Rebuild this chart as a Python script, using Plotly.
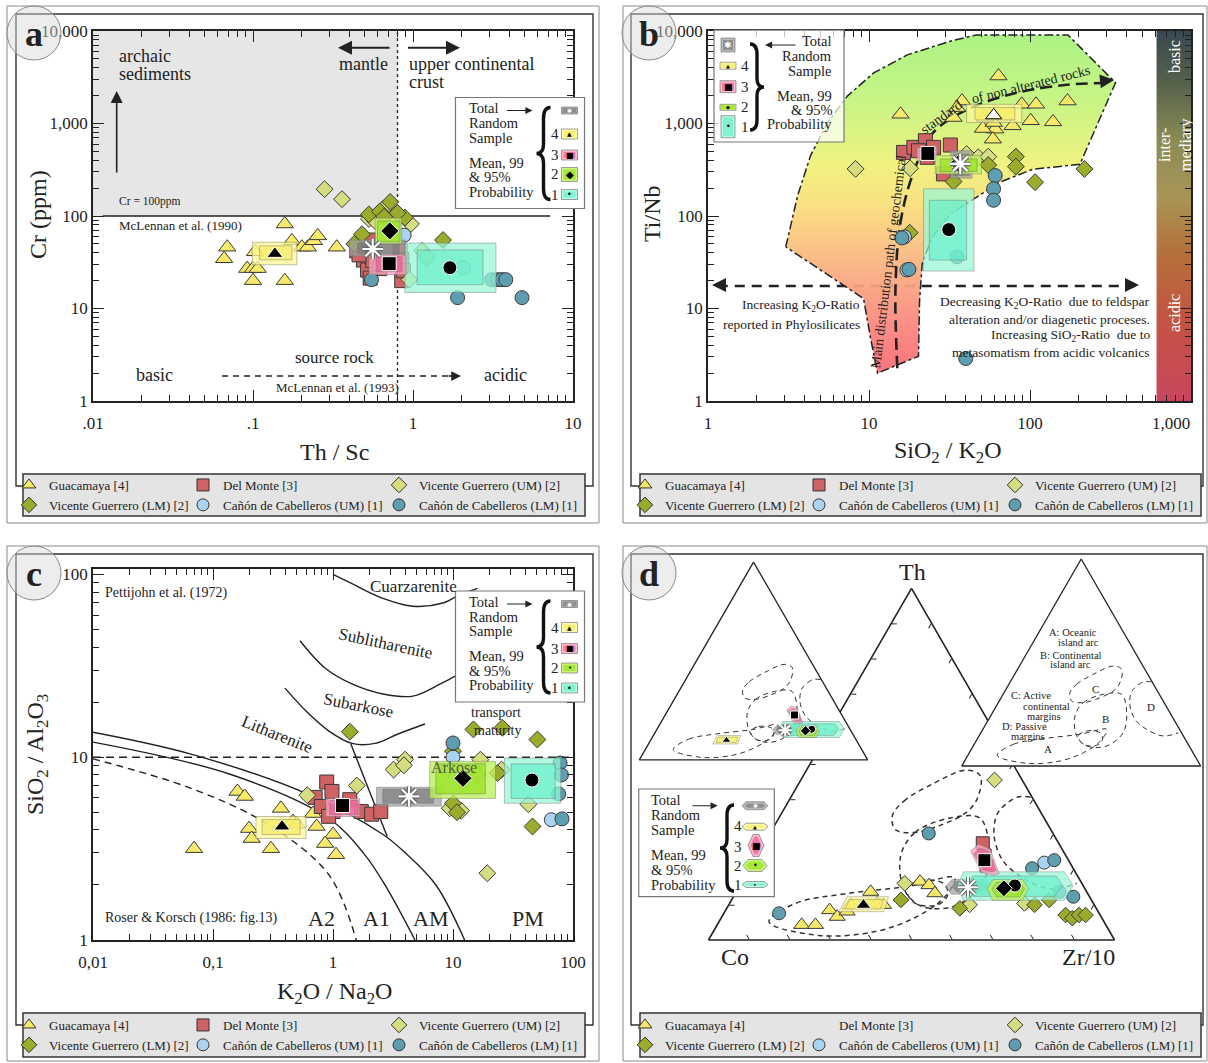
import numpy as np
import plotly.graph_objects as go

W, H = 1208, 1063
FONT = "Liberation Serif"
SYMF = "DejaVu Sans"
INK = "#222222"


def X(p):
    return p / W


def Y(p):
    return 1 - p / H


# ============================ DATA ============================
SERIES_NAMES = ["Guacamaya [4]", "Del Monte [3]", "Vicente Guerrero (UM) [2]",
                "Vicente Guerrero (LM) [2]", "Cañón de Cabelleros (UM) [1]",
                "Cañón de Cabelleros (LM) [1]"]
SERIES_SYMBOLS = ["triangle-up", "square", "diamond", "diamond", "circle", "circle"]
SERIES_COLORS = ["#f7ea6a", "#cf6262", "#d6dd80", "#9bac2c", "#a9d3f1", "#5f9db1"]
SERIES_SIZES = [15, 14, 13, 13, 14, 14]

# probability groups, order: Total, 4, 3, 2, 1
GROUP_LABELS = ["Total", "4", "3", "2", "1"]
P99_COL = ["rgba(160,160,160,0.72)", "rgba(255,248,150,0.75)", "rgba(247,165,195,0.78)",
           "rgba(190,240,95,0.80)", "rgba(150,246,215,0.72)"]
P95_COL = ["rgba(120,120,120,0.65)", "rgba(247,237,95,0.70)", "rgba(240,85,145,0.65)",
           "rgba(150,226,30,0.72)", "rgba(95,238,198,0.62)"]
MEAN_SYM = ["asterisk-open", "triangle-up", "square", "diamond", "circle"]
DRAW_ORDER = [0, 4, 1, 2, 3]

# ---- panel a : Th/Sc vs Cr (ppm)
A_GUAC_X = [0.069, 0.066, 0.158, 0.175, 0.202, 0.22, 0.24, 0.254, 0.334, 0.092, 0.10, 0.107, 0.10, 0.158, 0.103]
A_GUAC_Y = [46, 34.5, 82, 54, 46, 46, 54, 61, 46, 27, 27, 27, 20, 20, 41]
A_DELM_X = [0.445, 0.49, 0.52, 0.83, 0.85, 0.85, 0.87, 0.56, 0.62, 0.54, 0.53, 0.46]
A_DELM_Y = [42, 33.4, 26, 42, 34, 20, 25.6, 33, 27, 21.3, 55, 38]
A_VGUM_X = [0.28, 0.36, 0.53, 0.65, 0.97, 1.14, 1.22, 0.95, 0.60, 0.80, 0.58]
A_VGUM_Y = [195, 152, 93, 119, 82, 42, 35.4, 20.5, 105, 92, 88]
A_VGLM_X = [0.53, 0.72, 0.89, 0.48, 1.54, 0.62, 0.66, 0.80, 0.43]
A_VGLM_Y = [104, 142, 96, 63.5, 55, 112, 98, 108, 50]
A_CCUM_X = [0.88, 2.06]
A_CCUM_Y = [62, 27.6]
A_CCLM_X = [0.55, 1.9, 3.1, 3.4, 3.6, 3.8, 4.8]
A_CCLM_Y = [20.5, 13.1, 20.5, 20.5, 20.5, 20.5, 13.1]
A_P99_X0 = [0.40, 0.099, 0.531, 0.58, 0.89]
A_P99_X1 = [0.89, 0.188, 0.904, 0.85, 3.3]
A_P99_Y0 = [37, 29.7, 23.2, 50, 14.9]
A_P99_Y1 = [55, 52, 38, 95, 51]
A_P95_X0 = [0.45, 0.11, 0.589, 0.60, 1.06]
A_P95_X1 = [0.82, 0.175, 0.854, 0.83, 2.74]
A_P95_Y0 = [39, 33.6, 25, 52.6, 18.1]
A_P95_Y1 = [51, 47.6, 36.3, 88, 43]
A_MEAN_X = [0.56, 0.137, 0.71, 0.716, 1.70]
A_MEAN_Y = [44, 39, 30.5, 69, 27.6]
A_ARCHAIC_X = [0.01, 0.8]
A_ARCHAIC_Y = [100, 10000]
A_CR_LINE_X = [0.0115, 7.2]
A_CR_LINE_Y = [100, 100]
A_UCC_X = [0.8, 0.8]
A_UCC_Y = [1, 10000]

# ---- panel b : SiO2/K2O vs Ti/Nb
B_GUAC_X = [15.7, 63.7, 37.8, 35.2, 33.5, 88.9, 109, 171, 101, 139, 78, 60.7, 51, 58.8, 59.5, 52.7]
B_GUAC_Y = [1259, 3260, 1750, 1486, 1160, 1614, 1614, 1750, 1070, 1042, 944, 868, 883, 677, 1025, 1160]
B_DELM_X = [16.4, 19.0, 22.4, 25.2, 32, 23, 29, 20.3]
B_DELM_Y = [487, 552, 652, 552, 585, 431, 285, 508]
B_VGUM_X = [8.25, 18.0, 40.4, 47.7, 55]
B_VGUM_Y = [323, 328, 467, 431, 438]
B_VGLM_X = [33.5, 81.7, 81.7, 107.5, 218, 17.9, 55]
B_VGLM_Y = [236, 438, 342, 232, 323, 66, 356]
B_CCUM_X = [17.2, 16.6]
B_CCUM_Y = [26.1, 59.4]
B_CCLM_X = [60.8, 59.4, 59.4, 16.0, 17.7, 39.9, 35.2]
B_CCLM_Y = [274, 197, 148, 58, 26.5, 2.88, 36.2]
B_P99_X0 = [32, 40.4, 19.9, 25.8, 21.8]
B_P99_X1 = [43.6, 88.9, 26.4, 50, 44.9]
B_P99_Y0 = [256, 1025, 397, 285, 25.4]
B_P99_Y1 = [508, 1614, 552, 450, 197]
B_P95_X0 = [33.5, 45.5, 20.8, 27.7, 23.7]
B_P95_X1 = [41.9, 80.5, 25.8, 46.9, 40.4]
B_P95_Y0 = [273, 1093, 413, 303, 33.4]
B_P95_Y1 = [467, 1486, 530, 413, 148]
B_MEAN_X = [36.9, 59.5, 23.2, 36.0, 31.3]
B_MEAN_Y = [366, 1227, 475, 370, 71.3]
B_FIELD_X = [3.04, 3.61, 4.34, 5.53, 7.36, 10.7, 17.3, 32, 46.3, 172, 340, 204, 104, 65, 45.6, 32,
             24.7, 21.4, 20.6, 20.3, 11.3, 10.2, 9.25, 3.04]
B_FIELD_Y = [46.4, 168, 453, 1023, 1990, 3530, 5520, 7760, 9060, 9060, 2760, 362, 320, 232, 156, 105,
             59.4, 30.5, 11.9, 3.05, 2.0, 4.88, 12.8, 46.4]
B_PATH_X = [15.0, 14.6, 15.7, 18.9, 25.1, 40.7, 83, 169, 300]
B_PATH_Y = [2.26, 16.4, 86, 297, 800, 1410, 2150, 2620, 2740]
B_KARROW_X = [1.15, 450]
B_KARROW_Y = [17.5, 17.5]
B_CBAR_X = [611, 1000]
B_CBAR_Y = [1, 10000]

# ---- panel c : K2O/Na2O vs SiO2/Al2O3
C_GUAC_X = [0.0695, 0.16, 0.184, 0.368, 0.2, 0.21, 0.304, 0.464, 0.68, 0.73, 1.0, 0.86, 1.06, 0.5]
C_GUAC_Y = [3.16, 6.5, 6.1, 5.25, 4.07, 3.59, 3.16, 4.45, 4.92, 4.18, 3.78, 3.37, 2.93, 4.3]
C_DELM_X = [0.886, 0.98, 0.71, 0.80, 1.0, 1.38, 1.72, 2.1, 2.5, 0.92]
C_DELM_Y = [7.32, 6.5, 6.03, 5.38, 5.05, 5.86, 5.05, 4.88, 5.05, 4.75]
C_VGUM_X = [3.2, 3.98, 3.9, 1.58, 0.61, 16.9, 25.4, 9.4, 11.7, 42.5, 19.3, 16.0]
C_VGUM_Y = [8.56, 9.7, 9.04, 7.0, 6.2, 9.7, 8.56, 5.26, 5.1, 5.53, 2.32, 8.0]
C_VGLM_X = [1.38, 14.8, 25.8, 50.5, 10.0, 10.0, 23.5, 46, 10.8]
C_VGLM_Y = [13.8, 14.2, 14.5, 12.5, 10.8, 5.6, 8.2, 4.18, 5.0]
C_CCUM_X = [66, 10.0]
C_CCUM_Y = [4.55, 10.0]
C_CCLM_X = [81, 10.0, 78, 80, 76]
C_CCLM_Y = [4.6, 11.97, 9.3, 8.0, 6.3]
C_P99_X0 = [2.3, 0.228, 0.87, 6.4, 26.8]
C_P99_X1 = [8.0, 0.596, 1.67, 22.6, 79]
C_P99_Y0 = [5.4, 3.59, 4.74, 5.95, 5.6]
C_P99_Y1 = [6.85, 4.74, 5.95, 9.5, 9.9]
C_P95_X0 = [2.6, 0.257, 0.94, 7.2, 30.5]
C_P95_X1 = [6.9, 0.532, 1.62, 18.6, 71]
C_P95_Y0 = [5.6, 3.78, 4.86, 6.3, 5.95]
C_P95_Y1 = [6.7, 4.56, 5.8, 9.2, 9.2]
C_MEAN_X = [4.3, 0.376, 1.2, 12.1, 45.5]
C_MEAN_Y = [6.1, 4.18, 5.44, 7.67, 7.5]
C_CUARZ_X = [1.0, 1.44, 2.61, 4.64, 8.4, 11.2, 16]
C_CUARZ_Y = [100, 89, 74, 67, 70, 77, 84]
C_SUBLIT_X = [0.531, 0.857, 1.44, 2.61, 4.64, 7.85, 10.5, 16]
C_SUBLIT_Y = [43.4, 30.8, 25.2, 22.2, 21.6, 25.2, 27.9, 33]
C_SUBARK_X = [0.398, 0.596, 0.926, 1.44, 2.24, 3.48, 5.84]
C_SUBARK_Y = [23.9, 17.9, 13.9, 11.9, 11.9, 13.4, 15.2]
C_LINK_X = [1.41, 2.83]
C_LINK_Y = [11.8, 3.68]
C_RK_UP_X = [0.01, 0.0656, 0.596, 2.61, 4.06, 7.2, 12.5]
C_RK_UP_Y = [13.7, 10.4, 6.34, 3.78, 2.97, 2.0, 1.0]
C_RK_LO_X = [0.01, 0.139, 0.926, 1.81, 2.71, 4.82]
C_RK_LO_Y = [12.1, 8.07, 4.62, 2.97, 2.0, 1.0]
C_RK_DA_X = [0.01, 0.0656, 0.287, 0.926, 1.56]
C_RK_DA_Y = [9.8, 6.76, 4.29, 2.27, 1.0]
C_MAT_X = [0.01, 100]
C_MAT_Y = [10, 10]

# ---- panel d : ternary Th - Co - Zr/10 (percent)
D_GUAC_TH = [4.3, 4.3, 8.5, 6.6, 8.1, 13.7, 16.6, 15.6, 13.3, 10.4, 10.0, 10.0]
D_GUAC_CO = [74.9, 71.5, 65.9, 65.0, 61.8, 53.2, 39.6, 37.9, 37.6, 53.3, 51.9, 60.0]
D_GUAC_ZR = [20.8, 24.2, 25.6, 28.4, 30.1, 33.1, 43.8, 46.5, 49.1, 36.3, 38.1, 30.0]
D_DELM_TH = [27.5, 24.0, 21.0]
D_DELM_CO = [18.7, 20.0, 21.0]
D_DELM_ZR = [53.8, 56.0, 58.0]
D_VGUM_TH = [16.1, 10.0, 10.4, 45.5]
D_VGUM_CO = [43.6, 30.7, 17.0, 6.8]
D_VGUM_ZR = [40.3, 59.3, 72.6, 47.7]
D_VGLM_TH = [11.4, 9.0, 10.0, 11.4, 7.1, 6.2, 7.1, 7.1]
D_VGLM_CO = [46.9, 33.6, 14.7, 10.4, 8.5, 7.3, 5.2, 3.6]
D_VGLM_ZR = [41.7, 57.4, 75.3, 78.2, 84.4, 86.5, 87.7, 89.3]
D_CCUM_TH = [22.0]
D_CCUM_CO = [6.3]
D_CCUM_ZR = [71.7]
D_CCLM_TH = [7.6, 30.3, 20.4, 22.7, 12.3, 13.7]
D_CCLM_CO = [78.8, 30.6, 10.1, 3.5, 4.0, 6.7]
D_CCLM_ZR = [13.6, 39.1, 69.5, 73.8, 83.7, 79.6]
D_MEAN_TH = [15.0, 9.95, 22.7, 14.7, 15.5]
D_MEAN_CO = [28.6, 56.85, 20.7, 19.9, 16.8]
D_MEAN_ZR = [56.4, 33.2, 56.6, 65.4, 67.7]
D_P99_TH = [[15.2, 17.2, 17.2, 15.2, 13.0, 13.0], [8.05, 12.3, 12.3, 8.05],
            [25.3, 27.3, 25.9, 18.9, 18.4, 19.2], [14.66, 17.2, 17.2, 14.66, 11.3, 11.3],
            [15.5, 19.4, 19.4, 15.5, 11.3, 11.3]]
D_P99_CO = [[34.0, 31.5, 22.8, 22.3, 24.9, 33.6], [63.85, 59.7, 49.5, 52.85],
            [22.8, 19.9, 17.7, 19.0, 20.7, 23.2], [24.04, 21.3, 14.0, 13.84, 17.0, 24.4],
            [31.0, 27.5, 2.7, 2.5, 6.8, 31.6]]
D_P99_ZR = [[50.8, 51.3, 60.0, 62.5, 62.1, 53.4], [28.1, 28.0, 38.2, 39.1],
            [51.9, 52.8, 56.4, 62.1, 60.9, 57.6], [61.3, 61.5, 68.8, 71.5, 71.7, 64.3],
            [53.5, 53.1, 77.9, 82.0, 81.9, 57.1]]
D_P95_TH = [[15.2, 16.6, 16.6, 15.2, 13.7, 13.7], [8.8, 11.5, 11.5, 8.8],
            [24.5, 26.0, 25.0, 19.8, 19.4, 20.0], [14.66, 16.4, 16.4, 14.66, 12.2, 12.2],
            [15.5, 18.2, 18.2, 15.5, 12.4, 12.4]]
D_P95_CO = [[32.5, 30.6, 24.0, 23.8, 25.7, 32.0], [62.0, 59.5, 51.1, 53.2],
            [22.5, 20.2, 18.5, 19.2, 20.4, 22.2], [22.84, 20.9, 15.3, 14.84, 17.2, 23.0],
            [28.5, 25.8, 5.3, 5.0, 8.6, 28.6]]
D_P95_ZR = [[52.3, 52.8, 59.4, 61.0, 60.6, 54.3], [29.2, 29.0, 37.4, 38.0],
            [53.0, 53.8, 56.5, 61.0, 60.2, 57.8], [62.5, 62.7, 68.3, 70.5, 70.6, 64.8],
            [56.0, 56.0, 76.5, 79.5, 79.0, 59.0]]
# tectonic fields (Bhatia & Crook)
FIELD_A_TH = [5.2, 10.5, 13.2, 15.3, 17.7, 12.0, 6.4, 2.4, 1.3, 5.2]
FIELD_A_CO = [82.5, 73.1, 59.3, 42.9, 30.5, 36.0, 45.9, 57.7, 72.2, 82.5]
FIELD_A_ZR = [12.3, 16.4, 27.5, 41.8, 51.8, 52.0, 47.7, 39.9, 26.5, 12.3]
FIELD_B_TH = [24.15, 30.6, 34.6, 34.6, 25.7, 16.1, 9.66, 9.66, 14.5, 24.15]
FIELD_B_CO = [40.55, 33.8, 23.5, 15.8, 18.1, 24.4, 34.54, 42.84, 44.6, 40.55]
FIELD_B_ZR = [35.3, 35.6, 41.9, 49.6, 56.2, 59.5, 55.8, 47.5, 40.9, 35.3]
FIELD_B2_TH = [14.5, 16.9, 16.1, 12.9, 10.0, 10.5, 14.5]
FIELD_B2_CO = [44.0, 39.3, 34.1, 34.6, 38.5, 43.9, 44.0]
FIELD_B2_ZR = [41.5, 43.8, 49.8, 52.5, 51.5, 45.6, 41.5]
FIELD_C_TH = [35.4, 39.5, 44.3, 48.3, 46.7, 40.2, 36.2, 33.0, 30.6, 31.4, 35.4]
FIELD_C_CO = [37.0, 32.1, 22.8, 12.4, 9.7, 13.7, 18.5, 25.6, 33.8, 38.3, 37.0]
FIELD_C_ZR = [27.6, 28.4, 32.9, 39.3, 43.6, 46.1, 45.3, 41.4, 35.6, 30.3, 27.6]
FIELD_D_TH = [40.6, 40.6, 37.1, 34.6, 29.0, 22.6, 17.7, 14.5, 16.1]
FIELD_D_CO = [0.4, 3.7, 9.6, 12.0, 15.1, 16.2, 13.8, 8.4, 1.3]
FIELD_D_ZR = [59.0, 55.7, 53.3, 53.4, 55.9, 61.2, 68.5, 77.1, 82.6]

# ============================ FIGURE ============================
fig = go.Figure()
shapes = []
annotations = []


def rect(x0, y0, x1, y1, fill="rgba(0,0,0,0)", line="#333", lw=1.0, layer="below"):
    shapes.append(dict(type="rect", xref="paper", yref="paper", x0=X(x0), x1=X(x1),
                       y0=Y(y1), y1=Y(y0), fillcolor=fill, line=dict(color=line, width=lw),
                       layer=layer))


def T(x, y, s, size=14, xa="center", ya="middle", angle=0, color=INK, family=FONT):
    annotations.append(dict(x=X(x), y=Y(y), xref="paper", yref="paper", text=s,
                            showarrow=False, xanchor=xa, yanchor=ya, textangle=angle,
                            font=dict(family=family, size=size, color=color)))


def ARW(xh, yh, xt, yt, width=1.6, head=2, size=1.2, color=INK):
    annotations.append(dict(x=X(xh), y=Y(yh), xref="paper", yref="paper",
                            ax=xt - xh, ay=yt - yh, axref="pixel", ayref="pixel",
                            showarrow=True, arrowhead=head, arrowsize=size, arrowwidth=width,
                            arrowcolor=color, text="", standoff=0))


def brace(cx, cy, h, w, left=True):
    # curly brace drawn as a path; tip points left for "{" and right for "}"
    s = 1 if left else -1
    top, bot = cy - h / 2, cy + h / 2
    P = lambda a, b: "%.5f,%.5f" % (X(a), Y(b))
    path = ("M " + P(cx + s * w / 2, top) +
            " Q " + P(cx, top) + " " + P(cx, top + h * 0.12) +
            " L " + P(cx, cy - h * 0.1) +
            " Q " + P(cx, cy) + " " + P(cx - s * w / 2, cy) +
            " Q " + P(cx, cy) + " " + P(cx, cy + h * 0.1) +
            " L " + P(cx, bot - h * 0.12) +
            " Q " + P(cx, bot) + " " + P(cx + s * w / 2, bot))
    shapes.append(dict(type="path", xref="paper", yref="paper", path=path,
                       line=dict(color="#111111", width=3.4), layer="above"))


def pts(xs, ys, s, xa, ya):
    fig.add_trace(go.Scatter(x=xs, y=ys, mode="markers", xaxis=xa, yaxis=ya, showlegend=False,
                             hoverinfo="skip",
                             marker=dict(symbol=SERIES_SYMBOLS[s], color=SERIES_COLORS[s],
                                         size=SERIES_SIZES[s], line=dict(color="#3a3a3a", width=1))))


def line(xs, ys, xa, ya, dash="solid", width=1.4, color=INK, shape="linear"):
    fig.add_trace(go.Scatter(x=xs, y=ys, mode="lines", xaxis=xa, yaxis=ya, showlegend=False,
                             hoverinfo="skip", line=dict(color=color, width=width, dash=dash,
                                                         shape=shape, smoothing=1.0)))


def means(mx, my, xa, ya, white_tri=False):
    for g in [1, 2, 3, 4]:
        col = "black"
        lcol = "white"
        if white_tri and g == 1:
            col, lcol = "white", "black"
        fig.add_trace(go.Scatter(x=[mx[g]], y=[my[g]], mode="markers", xaxis=xa, yaxis=ya,
                                 showlegend=False, hoverinfo="skip",
                                 marker=dict(symbol=MEAN_SYM[g], color=col, size=14,
                                             line=dict(color=lcol, width=1))))
    for w, c in [(4.5, "#666666"), (2.2, "white")]:
        fig.add_trace(go.Scatter(x=[mx[0]], y=[my[0]], mode="markers", xaxis=xa, yaxis=ya,
                                 showlegend=False, hoverinfo="skip",
                                 marker=dict(symbol="asterisk-open", size=17, color=c,
                                             line=dict(color=c, width=w))))


def prob_boxes(p99x0, p99x1, p99y0, p99y1, p95x0, p95x1, p95y0, p95y1, mx, my, xa, ya,
               white_tri=False):
    for g in DRAW_ORDER:
        for (x0, x1, y0, y1, col) in [(p99x0[g], p99x1[g], p99y0[g], p99y1[g], P99_COL[g]),
                                      (p95x0[g], p95x1[g], p95y0[g], p95y1[g], P95_COL[g])]:
            fig.add_trace(go.Scatter(x=[x0, x1, x1, x0, x0], y=[y0, y0, y1, y1, y0], mode="lines",
                                     fill="toself", fillcolor=col, xaxis=xa, yaxis=ya,
                                     line=dict(color="rgba(110,110,110,0.55)", width=0.8),
                                     showlegend=False, hoverinfo="skip"))
    means(mx, my, xa, ya, white_tri)


# ---------------- panel a ----------------
fig.add_trace(go.Scatter(x=[A_ARCHAIC_X[0], A_ARCHAIC_X[1], A_ARCHAIC_X[1], A_ARCHAIC_X[0], A_ARCHAIC_X[0]],
                         y=[A_ARCHAIC_Y[0], A_ARCHAIC_Y[0], A_ARCHAIC_Y[1], A_ARCHAIC_Y[1], A_ARCHAIC_Y[0]],
                         fill="toself", fillcolor="#e6e6e6", mode="lines", line=dict(width=0),
                         xaxis="x", yaxis="y", showlegend=False, hoverinfo="skip"))
line(A_CR_LINE_X, A_CR_LINE_Y, "x", "y", width=1.3)
line(A_UCC_X, A_UCC_Y, "x", "y", dash="dot", width=1.3)
for s, (xs, ys) in enumerate([(A_GUAC_X, A_GUAC_Y), (A_DELM_X, A_DELM_Y), (A_VGUM_X, A_VGUM_Y),
                              (A_VGLM_X, A_VGLM_Y), (A_CCUM_X, A_CCUM_Y), (A_CCLM_X, A_CCLM_Y)]):
    pts(xs, ys, s, "x", "y")
prob_boxes(A_P99_X0, A_P99_X1, A_P99_Y0, A_P99_Y1, A_P95_X0, A_P95_X1, A_P95_Y0, A_P95_Y1,
           A_MEAN_X, A_MEAN_Y, "x", "y")

# ---------------- panel b ----------------
line(B_KARROW_X, B_KARROW_Y, "x2", "y2", dash="10px,7px", width=2.4)
fig.add_trace(go.Scatter(x=B_FIELD_X, y=B_FIELD_Y, mode="lines", fill="toself",
                         fillgradient=dict(type="vertical", colorscale=[
                             [0.0, "rgba(250,105,115,0.93)"], [0.15, "rgba(250,135,125,0.93)"],
                             [0.35, "rgba(250,185,128,0.93)"], [0.5, "rgba(250,222,122,0.93)"],
                             [0.62, "rgba(238,242,118,0.93)"], [0.8, "rgba(196,244,124,0.93)"],
                             [1.0, "rgba(166,242,124,0.93)"]]),
                         line=dict(color=INK, width=1.5, dash="dashdot"),
                         xaxis="x2", yaxis="y2", showlegend=False, hoverinfo="skip"))
line(B_PATH_X, B_PATH_Y, "x2", "y2", dash="12px,6px", width=2.6, shape="spline")
fig.add_trace(go.Scatter(x=[B_CBAR_X[0], B_CBAR_X[1], B_CBAR_X[1], B_CBAR_X[0], B_CBAR_X[0]],
                         y=[B_CBAR_Y[0], B_CBAR_Y[0], B_CBAR_Y[1], B_CBAR_Y[1], B_CBAR_Y[0]],
                         mode="lines", fill="toself", line=dict(width=0),
                         fillgradient=dict(type="vertical", colorscale=[
                             [0.0, "#c9465d"], [0.22, "#c35443"], [0.4, "#b5703a"],
                             [0.55, "#a89556"], [0.7, "#8c8c55"], [0.86, "#56614b"],
                             [1.0, "#384850"]]),
                         xaxis="x2", yaxis="y2", showlegend=False, hoverinfo="skip"))
for s, (xs, ys) in enumerate([(B_GUAC_X, B_GUAC_Y), (B_DELM_X, B_DELM_Y), (B_VGUM_X, B_VGUM_Y),
                              (B_VGLM_X, B_VGLM_Y), (B_CCUM_X, B_CCUM_Y), (B_CCLM_X, B_CCLM_Y)]):
    pts(xs, ys, s, "x2", "y2")
prob_boxes(B_P99_X0, B_P99_X1, B_P99_Y0, B_P99_Y1, B_P95_X0, B_P95_X1, B_P95_Y0, B_P95_Y1,
           B_MEAN_X, B_MEAN_Y, "x2", "y2", white_tri=True)

# ---------------- panel c ----------------
line(C_MAT_X, C_MAT_Y, "x3", "y3", dash="8px,5px", width=1.4)
for xs, ys in [(C_CUARZ_X, C_CUARZ_Y), (C_SUBLIT_X, C_SUBLIT_Y), (C_SUBARK_X, C_SUBARK_Y),
               (C_RK_UP_X, C_RK_UP_Y), (C_RK_LO_X, C_RK_LO_Y)]:
    line(xs, ys, "x3", "y3", width=1.4, shape="spline")
line(C_LINK_X, C_LINK_Y, "x3", "y3", width=1.4)
line(C_RK_DA_X, C_RK_DA_Y, "x3", "y3", dash="7px,5px", width=1.4, shape="spline")
for s, (xs, ys) in enumerate([(C_GUAC_X, C_GUAC_Y), (C_DELM_X, C_DELM_Y), (C_VGUM_X, C_VGUM_Y),
                              (C_VGLM_X, C_VGLM_Y), (C_CCUM_X, C_CCUM_Y), (C_CCLM_X, C_CCLM_Y)]):
    pts(xs, ys, s, "x3", "y3")
prob_boxes(C_P99_X0, C_P99_X1, C_P99_Y0, C_P99_Y1, C_P95_X0, C_P95_X1, C_P95_Y0, C_P95_Y1,
           C_MEAN_X, C_MEAN_Y, "x3", "y3")


# ---------------- panel d (ternaries) ----------------
def tline(th, co, zr, sub, width=1.3):
    fig.add_trace(go.Scatterternary(a=th, b=co, c=zr, mode="lines", subplot=sub, showlegend=False,
                                    hoverinfo="skip",
                                    line=dict(color="#333333", width=width, dash="5px,4px",
                                              shape="spline", smoothing=1.0)))


def tregions(sub):
    for g in DRAW_ORDER:
        for th, co, zr, col in [(D_P99_TH[g], D_P99_CO[g], D_P99_ZR[g], P99_COL[g]),
                                (D_P95_TH[g], D_P95_CO[g], D_P95_ZR[g], P95_COL[g])]:
            fig.add_trace(go.Scatterternary(a=th + th[:1], b=co + co[:1], c=zr + zr[:1], mode="lines",
                                            fill="toself", fillcolor=col, subplot=sub,
                                            line=dict(color="rgba(110,110,110,0.5)", width=0.8),
                                            showlegend=False, hoverinfo="skip"))


def tmeans(sub, size=13, star=17):
    for g in [1, 2, 4, 3]:
        fig.add_trace(go.Scatterternary(a=[D_MEAN_TH[g]], b=[D_MEAN_CO[g]], c=[D_MEAN_ZR[g]],
                                        mode="markers", subplot=sub, showlegend=False,
                                        hoverinfo="skip",
                                        marker=dict(symbol=MEAN_SYM[g], color="black", size=size,
                                                    line=dict(color="white", width=1))))
    for w, c in [(4.0, "#666666"), (2.0, "white")]:
        fig.add_trace(go.Scatterternary(a=[D_MEAN_TH[0]], b=[D_MEAN_CO[0]], c=[D_MEAN_ZR[0]],
                                        mode="markers", subplot=sub, showlegend=False,
                                        hoverinfo="skip",
                                        marker=dict(symbol="asterisk-open", size=star, color=c,
                                                    line=dict(color=c, width=w))))


def tfields(sub, width):
    tline(FIELD_A_TH, FIELD_A_CO, FIELD_A_ZR, sub, width)
    tline(FIELD_B_TH, FIELD_B_CO, FIELD_B_ZR, sub, width)
    tline(FIELD_B2_TH, FIELD_B2_CO, FIELD_B2_ZR, sub, width)
    tline(FIELD_C_TH, FIELD_C_CO, FIELD_C_ZR, sub, width)
    tline(FIELD_D_TH, FIELD_D_CO, FIELD_D_ZR, sub, width)


# big ternary
tfields("ternary", 1.5)
for s, (th, co, zr) in enumerate([(D_GUAC_TH, D_GUAC_CO, D_GUAC_ZR), (D_DELM_TH, D_DELM_CO, D_DELM_ZR),
                                  (D_VGUM_TH, D_VGUM_CO, D_VGUM_ZR), (D_VGLM_TH, D_VGLM_CO, D_VGLM_ZR),
                                  (D_CCUM_TH, D_CCUM_CO, D_CCUM_ZR), (D_CCLM_TH, D_CCLM_CO, D_CCLM_ZR)]):
    fig.add_trace(go.Scatterternary(a=th, b=co, c=zr, mode="markers", subplot="ternary",
                                    showlegend=False, hoverinfo="skip",
                                    marker=dict(symbol=SERIES_SYMBOLS[s], color=SERIES_COLORS[s],
                                                size=SERIES_SIZES[s] - 1,
                                                line=dict(color="#3a3a3a", width=1))))
tregions("ternary")
tmeans("ternary")
# small left ternary (probability regions only)
tfields("ternary2", 1.0)
tregions("ternary2")
tmeans("ternary2", size=8, star=11)
# small right ternary (fields only)
tfields("ternary3", 1.0)

# ---------------- legends (dummy entries) ----------------
LEG_SYMX = [[29, 203, 399], [645, 819, 1015], [29, 203, 399], [645, 819, 1015]]
LEG_TOP = [470, 470, 1010, 1010]
SER_COL = [0, 1, 2, 0, 1, 2]
legends = {}
for p in range(4):
    for k in range(3):
        n = p * 3 + k + 1
        lid = "legend" if n == 1 else "legend%d" % n
        legends[lid] = dict(x=X(LEG_SYMX[p][k] - 20), y=Y(LEG_TOP[p]), xanchor="left", yanchor="top",
                            bgcolor="rgba(0,0,0,0)", borderwidth=0, tracegroupgap=0,
                            font=dict(family=FONT, size=13, color=INK), orientation="v")
    for s in range(6):
        n = p * 3 + SER_COL[s] + 1
        lid = "legend" if n == 1 else "legend%d" % n
        hide = (p == 3 and s == 1)
        fig.add_trace(go.Scatter(x=[None], y=[None], mode="markers", xaxis="x", yaxis="y",
                                 name=SERIES_NAMES[s], legend=lid, showlegend=True, hoverinfo="skip",
                                 marker=dict(symbol=SERIES_SYMBOLS[s],
                                             color="rgba(0,0,0,0)" if hide else SERIES_COLORS[s],
                                             size=12,
                                             line=dict(color="rgba(0,0,0,0)" if hide else "#333",
                                                       width=1))))

# ---------------- frames ----------------
for (ox0, oy0, ox1, oy1), (ix0, iy0, ix1, iy1), (lx0, ly0, lx1, ly1) in [
        ((7, 6, 599, 523), (16, 14, 593, 486), (23, 474, 585, 516)),
        ((623, 6, 1207, 523), (631, 14, 1203, 486), (640, 474, 1201, 516)),
        ((7, 546, 599, 1061), (16, 554, 593, 1025), (23, 1013, 585, 1057)),
        ((623, 546, 1207, 1061), (631, 554, 1203, 1025), (640, 1013, 1201, 1057))]:
    rect(ox0, oy0, ox1, oy1, line="#8a8a8a", lw=1)
    rect(ix0, iy0, ix1, iy1, line="#333333", lw=1.4)
    rect(lx0, ly0, lx1, ly1, fill="#e4e4e4", line="#333333", lw=1.5)

for (cx, cy, lab) in [(34, 33, "a"), (649, 33, "b"), (34, 573, "c"), (649, 573, "d")]:
    shapes.append(dict(type="circle", xref="paper", yref="paper", xsizemode="pixel",
                       ysizemode="pixel", xanchor=X(cx), yanchor=Y(cy), x0=-27, x1=27, y0=-27, y1=27,
                       fillcolor="rgba(215,215,215,0.45)", line=dict(color="#8a8a8a", width=1),
                       layer="above"))
    T(cx, cy + 1, "<b>%s</b>" % lab, size=36)


# ---------------- probability legends ----------------
def minibox(cx, cy, w, h, outer, inner, glyph="", gsize=8, gcol="black", inset=2):
    rect(cx - w / 2, cy - h / 2, cx + w / 2, cy + h / 2, fill=outer, line="rgba(110,110,110,0.8)",
         lw=0.8, layer="above")
    rect(cx - w / 2 + inset, cy - h / 2 + inset, cx + w / 2 - inset, cy + h / 2 - inset, fill=inner,
         line="rgba(0,0,0,0)", lw=0, layer="above")
    if glyph:
        T(cx, cy, glyph, size=gsize, color=gcol, family=SYMF)


def hexpath(cx, cy, w, h, k):
    pts_ = [(cx - w / 2, cy), (cx - w / 2 + k, cy - h / 2), (cx + w / 2 - k, cy - h / 2),
            (cx + w / 2, cy), (cx + w / 2 - k, cy + h / 2), (cx - w / 2 + k, cy + h / 2)]
    return "M " + " L ".join("%.5f,%.5f" % (X(a), Y(b)) for a, b in pts_) + " Z"


def minihex(cx, cy, w, h, k, outer, inner, glyph="", gsize=7, gcol="black"):
    shapes.append(dict(type="path", xref="paper", yref="paper", path=hexpath(cx, cy, w, h, k),
                       fillcolor=outer, line=dict(color="rgba(110,110,110,0.8)", width=0.8),
                       layer="above"))
    shapes.append(dict(type="path", xref="paper", yref="paper",
                       path=hexpath(cx, cy, w - 5, h - 4, max(k - 1, 1)),
                       fillcolor=inner, line=dict(width=0), layer="above"))
    if glyph:
        T(cx, cy, glyph, size=gsize, color=gcol, family=SYMF)


def left_legend(x0, y0, g2big):
    rect(x0, y0, x0 + 129, y0 + 111, fill="white", line="#777777", lw=1.2, layer="above")
    for dy, s in [(11, "Total"), (25.5, "Random"), (40, "Sample"), (65, "Mean, 99"),
                  (79.5, "&amp; 95%"), (94, "Probability")]:
        T(x0 + 11, y0 + dy, s, size=14.5, xa="left")
    ARW(x0 + 77, y0 + 13, x0 + 50, y0 + 13, width=1.1, head=2, size=1.3)
    brace(x0 + 88, y0 + 56, 92, 14, left=True)
    for dy, s in [(36.5, "4"), (57.5, "3"), (77, "2"), (97, "1")]:
        T(x0 + 99.5, y0 + dy, s, size=15)
    cx = x0 + 114
    minibox(cx, y0 + 13, 16, 7, P99_COL[0], P95_COL[0], "✱", 6, "white", inset=1)
    minibox(cx, y0 + 36.5, 16, 10, P99_COL[1], P95_COL[1], "▲", 6)
    minibox(cx, y0 + 57.5, 16, 10, P99_COL[2], P95_COL[2], "■", 8)
    if g2big:
        minibox(cx, y0 + 77, 16, 14, P99_COL[3], P95_COL[3], "◆", 10)
    else:
        minibox(cx, y0 + 77, 16, 10, P99_COL[3], P95_COL[3], "•", 7)
    minibox(cx, y0 + 97, 16, 10, P99_COL[4], P95_COL[4], "•", 8)


left_legend(455.5, 97.5, True)
left_legend(455.5, 591, False)

# panel b legend (mirrored)
rect(714, 30, 844, 142, fill="rgba(255,255,255,0.72)", line="#777777", lw=1.2, layer="above")
for yy, s in [(41.5, "Total"), (56, "Random"), (70.7, "Sample"), (96, "Mean, 99"),
              (109.5, "&amp; 95%"), (124, "Probability")]:
    T(833.5, yy, s, size=14.5, xa="right")
ARW(765, 45, 797, 45, width=1.1, head=2, size=1.3)
brace(757, 87, 86, 14, left=False)
for yy, s in [(65.7, "4"), (86.7, "3"), (107.3, "2"), (126.7, "1")]:
    T(744.5, yy, s, size=15)
minibox(728, 45, 14, 14, P99_COL[0], P95_COL[0], "✱", 9, "white")
minibox(728, 65.7, 16, 7, P99_COL[1], P95_COL[1], "▲", 5, inset=1)
minibox(728, 86.7, 16, 12, P99_COL[2], P95_COL[2], "■", 9)
minibox(728, 107.3, 16, 6, P99_COL[3], P95_COL[3], "◆", 5, inset=1)
minibox(728, 126.7, 14, 22, P99_COL[4], P95_COL[4], "•", 8)

# panel d legend
rect(638.7, 789, 774.3, 896.7, fill="white", line="#777777", lw=1.2, layer="above")
for yy, s in [(800, "Total"), (815, "Random"), (830, "Sample"), (855, "Mean, 99"),
              (870, "&amp; 95%"), (884.7, "Probability")]:
    T(649.3, yy, s, size=14.5, xa="left")
ARW(717.7, 805.7, 691, 805.7, width=1.1, head=2, size=1.3)
brace(727, 848, 86, 14, left=True)
for yy, s in [(826, "4"), (846.7, "3"), (866, "2"), (885, "1")]:
    T(737.5, yy, s, size=15)
minihex(755, 805.7, 26, 8, 4, P99_COL[0], P95_COL[0], "✱", 6, "white")
minihex(755, 826.7, 26, 7, 4, P99_COL[1], P95_COL[1], "▲", 5)
minihex(756, 845.5, 16, 22, 5, P99_COL[2], P95_COL[2], "■", 9)
minihex(755, 865.5, 24, 12, 5, P99_COL[3], P95_COL[3], "•", 8)
minihex(755, 884.5, 26, 6, 4, P99_COL[4], P95_COL[4], "•", 6)

# ---------------- panel a text ----------------
T(116.7, 55.5, "archaic", size=18, xa="left")
T(116.7, 74, "sediments", size=18, xa="left")
T(389.5, 63.5, "mantle", size=18, xa="right")
T(406.8, 63.5, "upper continental", size=18, xa="left")
T(406.8, 82, "crust", size=18, xa="left")
ARW(338, 47.7, 391, 47.7, width=2, head=2, size=1.4)
ARW(460, 47.7, 406.5, 47.7, width=2, head=2, size=1.4)
ARW(116.7, 91, 116.7, 174, width=1.6, head=2, size=1.5)
T(116.7, 201, "Cr = 100ppm", size=11.5, xa="left")
T(116.7, 225, "McLennan et al. (1990)", size=13, xa="left")
T(334, 357, "source rock", size=17)
T(134, 375, "basic", size=18, xa="left")
T(505, 375, "acidic", size=18)
shapes.append(dict(type="line", xref="paper", yref="paper", x0=X(222), x1=X(450), y0=Y(376),
                   y1=Y(376), line=dict(color=INK, width=1.3, dash="6px,5px")))
ARW(461, 376, 447, 376, width=1.3, head=2, size=1.5)
T(337, 387.5, "McLennan et al. (1993)", size=13)
T(334, 452, "Th / Sc", size=24)
T(38, 215, "Cr (ppm)", size=24, angle=-90)

# ---------------- panel b text ----------------
T(652, 214, "Ti/Nb", size=24, angle=-90)
T(947, 452, "SiO<sub>2</sub> / K<sub>2</sub>O", size=24)
T(1171, 423, "1,000", size=17)
T(861.7, 305, "Increasing K<sub>2</sub>O-Ratio", size=13.5, xa="right")
T(861.7, 324, "reported in Phylosilicates", size=13.5, xa="right")
T(1152, 302.7, "Decreasing K<sub>2</sub>O-Ratio  due to feldspar", size=13.5, xa="right")
T(1152, 319.3, "alteration and/or diagenetic proceses.", size=13.5, xa="right")
T(1152, 335.5, "Increasing SiO<sub>2</sub>-Ratio  due to", size=13.5, xa="right")
T(1152, 352, "metasomatism from acidic volcanics", size=13.5, xa="right")
T(889, 262, "Main distribution path of geochemical", size=14, angle=-83)
T(941, 118, "standard", size=14, angle=-36)
T(1031, 84, "of non alterated rocks", size=14, angle=-14)
ARW(712, 285, 726, 285, width=2, head=2, size=1.4)
ARW(1139, 285, 1125, 285, width=2, head=2, size=1.4)
ARW(1114, 80, 1099, 81.5, width=2, head=2, size=1.4)
T(1175, 57, "basic", size=16, angle=-90, color="white")
T(1175, 145, "inter-<br>mediary", size=16, angle=-90, color="white")
T(1175, 313, "acidic", size=16, angle=-90, color="white")

# ---------------- panel c text ----------------
T(102.6, 593.3, "Pettijohn et al. (1972)", size=14, xa="left")
T(413, 586.7, "Cuarzarenite", size=17)
T(385, 643, "Sublitharenite", size=17, angle=12)
T(358.6, 705.7, "Subarkose", size=17, angle=11)
T(277.5, 734, "Litharenite", size=17, angle=22)
T(495.6, 712.3, "transport", size=14)
T(497.5, 730, "maturity", size=14)
T(453.5, 767.7, "Arkose", size=16, color="#555555")
T(102.6, 918.3, "Roser &amp; Korsch (1986: fig.13)", size=14, xa="left")
for xx, s in [(322, "A2"), (376, "A1"), (430.5, "AM"), (528, "PM")]:
    T(xx, 918, s, size=22)
T(334, 993, "K<sub>2</sub>O / Na<sub>2</sub>O", size=24)
T(37, 755, "SiO<sub>2</sub> / Al<sub>2</sub>O<sub>3</sub>", size=24, angle=-90)

# ---------------- panel d text ----------------
T(912, 572, "Th", size=24)
T(735, 957, "Co", size=24)
T(1088, 957, "Zr/10", size=24)
for xx, yy, s in [(1073, 632.7, "A: Oceanic"), (1078, 642.7, "island arc"),
                  (1071, 655, "B: Continental"), (1070, 664.3, "island arc"),
                  (1030.7, 695.3, "C: Active"), (1046.7, 706, "continental"), (1044, 716, "margins"),
                  (1024, 726.7, "D: Passive"), (1028, 736, "margins")]:
    T(xx, yy, s, size=10.5)
for xx, yy, s in [(1048.3, 749.3, "A"), (1105, 719.3, "B"), (1095, 689.3, "C"), (1150.7, 706.7, "D")]:
    T(xx, yy, s, size=11)


# ---------------- axes ----------------
def minor_vals(e0, e1):
    return [k * 10.0 ** e for e in range(e0, e1) for k in range(2, 10)]


def log_axis(dom, rng, tv, tt, anchor, mv, standoff=None):
    d = dict(type="log", domain=dom, range=rng, tickmode="array", tickvals=tv, ticktext=tt,
             ticks="inside", ticklen=11, tickwidth=1.3, tickcolor=INK, showline=True,
             linecolor=INK, linewidth=1.6, mirror="ticks", showgrid=False, zeroline=False,
             tickfont=dict(family=FONT, size=17, color=INK), anchor=anchor, fixedrange=True,
             minor=dict(tickmode="array", tickvals=mv, ticks="inside", ticklen=6, tickwidth=1,
                        tickcolor=INK, showgrid=False))
    if standoff is not None:
        d["ticklabelstandoff"] = standoff
    return d


def tern_axis(ticks):
    return dict(showticklabels=False, showgrid=False, ticks="inside" if ticks else "", ticklen=5,
                tickwidth=1, tickcolor=INK, dtick=10, linecolor=INK, linewidth=1.6 if ticks else 1.3,
                title=dict(text=""), min=0)


layout = dict(
    width=W, height=H, margin=dict(l=0, r=0, t=0, b=0, autoexpand=False), paper_bgcolor="white",
    plot_bgcolor="white", hovermode=False, showlegend=True,
    xaxis=log_axis([X(93), X(573)], [-2, 1], [0.01, 0.1, 1, 10], [".01", ".1", "1", "10"], "y",
                   minor_vals(-2, 1), 6),
    yaxis=log_axis([Y(401), Y(31)], [0, 4], [1, 10, 100, 1000, 10000],
                   ["1", "10", "100", "1,000", "10,000"], "x", minor_vals(0, 4)),
    xaxis2=log_axis([X(708), X(1191)], [0, 3], [1, 10, 100, 1000], ["1", "10", "100", ""], "y2",
                    minor_vals(0, 3), 6),
    yaxis2=log_axis([Y(401), Y(31)], [0, 4], [1, 10, 100, 1000, 10000],
                    ["1", "10", "100", "1,000", "10,000"], "x2", minor_vals(0, 4)),
    xaxis3=log_axis([X(93), X(573)], [-2, 2], [0.01, 0.1, 1, 10, 100],
                    ["0,01", "0,1", "1", "10", "100"], "y3", minor_vals(-2, 2), 6),
    yaxis3=log_axis([Y(940), Y(569)], [0, 2.03], [1, 10, 100], ["1", "10", "100"], "x3",
                    minor_vals(0, 2)),
    ternary=dict(domain=dict(x=[X(707.3), X(1115.7)], y=[Y(940), Y(588.3)]), sum=100,
                 bgcolor="rgba(255,255,255,0)", aaxis=tern_axis(True), baxis=tern_axis(True),
                 caxis=tern_axis(True)),
    ternary2=dict(domain=dict(x=[X(639.3), X(867.7)], y=[Y(760), Y(562)]), sum=100,
                  bgcolor="white", aaxis=tern_axis(False), baxis=tern_axis(False),
                  caxis=tern_axis(False)),
    ternary3=dict(domain=dict(x=[X(961.7), X(1200.7)], y=[Y(766), Y(559)]), sum=100,
                  bgcolor="white", aaxis=tern_axis(False), baxis=tern_axis(False),
                  caxis=tern_axis(False)),
    shapes=shapes, annotations=annotations,
)
layout.update(legends)
fig.update_layout(**layout)
fig.write_html("out.html", config={"displayModeBar": False},
               post_script="document.body.style.margin='0px';document.body.style.padding='0px';"
                           "document.body.style.overflow='hidden';")
